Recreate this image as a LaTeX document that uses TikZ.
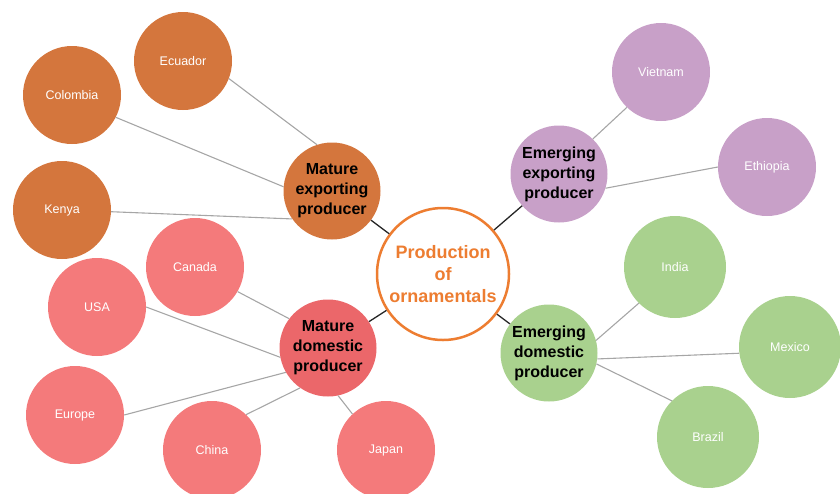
\documentclass[tikz,border=0pt]{standalone}
\usepackage{fontspec}
\setmainfont{Liberation Sans}
\definecolor{cOrange}{HTML}{D4763D}
\definecolor{cPurple}{HTML}{C8A0C8}
\definecolor{cPink}{HTML}{F47A7B}
\definecolor{cRedD}{HTML}{EB676A}
\definecolor{cGreen}{HTML}{A9D18E}
\definecolor{cHub}{HTML}{ED7D31}
\definecolor{cGrayLine}{HTML}{A6A6A6}
\definecolor{cDark}{HTML}{262626}
\begin{document}
\begin{tikzpicture}[x=1pt,y=-1pt,
  country/.style={circle,minimum size=98pt,inner sep=0pt,text=white,
    font=\fontsize{12.5}{15}\selectfont},
  bigcountry/.style={country,minimum size=102pt},
  cat/.style={circle,minimum size=97pt,inner sep=0pt,text=black,align=center,
    font=\fontsize{16}{20}\selectfont\bfseries},
  hub/.style={circle,minimum size=132pt,inner sep=0pt,draw=cHub,line width=2.5pt,
    fill=white,text=cHub,align=center,font=\fontsize{18}{22}\selectfont\bfseries},
  spoke/.style={draw=cGrayLine,line width=1.1pt},
  link/.style={draw=cDark,line width=1.3pt}]
\useasboundingbox (0,0) rectangle (840,493);
% hub and categories
\node[hub] (hub) at (443,274) {Production\\of\\ornamentals};
\node[cat,fill=cOrange] (mexp) at (332,191) {Mature\\exporting\\producer};
\node[cat,fill=cPurple] (eexp) at (559,174) {Emerging\\exporting\\producer};
\node[cat,fill=cRedD] (mdom) at (328,348) {Mature\\domestic\\producer};
\node[cat,fill=cGreen] (edom) at (549,353) {Emerging\\domestic\\producer};
% countries
\node[country,fill=cOrange] (ecuador) at (183,61) {Ecuador};
\node[country,fill=cOrange] (colombia) at (72,95) {Colombia};
\node[country,fill=cOrange] (kenya) at (62,210) {Kenya};
\node[country,fill=cPurple] (vietnam) at (661,72) {Vietnam};
\node[country,fill=cPurple] (ethiopia) at (767,167) {Ethiopia};
\node[country,fill=cPink] (canada) at (195,267) {Canada};
\node[country,fill=cPink] (usa) at (97,307) {USA};
\node[country,fill=cPink] (europe) at (75,415) {Europe};
\node[country,fill=cPink] (china) at (212,450) {China};
\node[country,fill=cPink] (japan) at (386,450) {Japan};
\node[bigcountry,fill=cGreen] (india) at (675,267) {India};
\node[bigcountry,fill=cGreen] (mexico) at (790,347) {Mexico};
\node[bigcountry,fill=cGreen] (brazil) at (708,437) {Brazil};
% links to hub
\draw[link] (mexp) -- (hub);
\draw[link] (eexp) -- (hub);
\draw[link] (mdom) -- (hub);
\draw[link] (edom) -- (hub);
% spokes
\draw[spoke] (ecuador.-21) -- (mexp.108);
\draw[spoke] (colombia.-27) -- (mexp.175);
\draw[spoke] (kenya.-2) -- (mexp.215);
\draw[spoke] (vietnam.226) -- (eexp.46);
\draw[spoke] (ethiopia.180) -- (eexp.-17);
\draw[spoke] (canada.-30) -- (mdom.143);
\draw[spoke] (usa.0) -- (mdom.191);
\draw[spoke] (europe.0) -- (mdom.210);
\draw[spoke] (china.46) -- (mdom.235);
\draw[spoke] (japan.133) -- (mdom.282);
\draw[spoke] (india.225) -- (edom.15);
\draw[spoke] (mexico.187) -- (edom.-7);
\draw[spoke] (brazil.135) -- (edom.-13);
\end{tikzpicture}
\end{document}
